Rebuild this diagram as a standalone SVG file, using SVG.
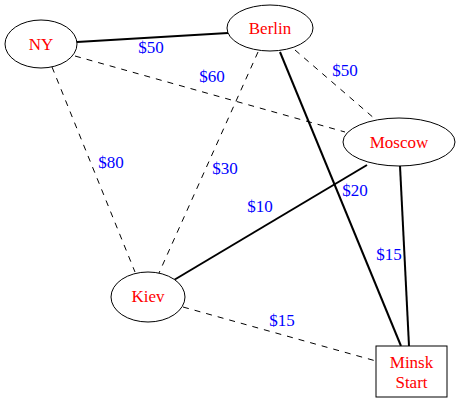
<svg xmlns="http://www.w3.org/2000/svg" width="459" height="402" viewBox="0 0 459 402">
<style>
.node ellipse, .node rect { fill: #fff; stroke: #000; stroke-width: 1; }
.name { font-family: "Liberation Serif", serif; font-size: 17px; fill: #ff0000; text-anchor: middle; }
.lbl { font-family: "Liberation Serif", serif; font-size: 17px; fill: #0000ff; text-anchor: middle; }
.solid { stroke: #000; stroke-width: 2; fill: none; }
.dash { stroke: #000; stroke-width: 1; stroke-dasharray: 6,6; fill: none; }
</style>
<rect width="459" height="402" fill="#fff"/>
<g id="connectors">
<line class="solid" x1="77" y1="42" x2="228" y2="33"/>
<line class="dash" x1="75" y1="56" x2="345" y2="132"/>
<line class="dash" x1="52" y1="67" x2="135" y2="272"/>
<line class="dash" x1="258" y1="52" x2="159" y2="273"/>
<line class="dash" x1="295" y1="50" x2="375" y2="119"/>
<line class="solid" x1="280" y1="52" x2="401" y2="346"/>
<line class="solid" x1="367" y1="165" x2="174" y2="280"/>
<line class="solid" x1="400" y1="166" x2="409" y2="346"/>
<line class="dash" x1="183" y1="307" x2="376" y2="361"/>
<text class="lbl" x="151" y="53">$50</text>
<text class="lbl" x="212" y="82">$60</text>
<text class="lbl" x="345" y="76">$50</text>
<text class="lbl" x="111" y="168">$80</text>
<text class="lbl" x="225" y="174">$30</text>
<text class="lbl" x="260" y="212">$10</text>
<text class="lbl" x="355" y="196">$20</text>
<text class="lbl" x="389" y="260">$15</text>
<text class="lbl" x="282" y="326">$15</text>
</g>
<g id="ny" class="node"><ellipse cx="41" cy="44" rx="36" ry="24"/><text class="name" x="41" y="50">NY</text></g>
<g id="berlin" class="node"><ellipse cx="270" cy="28" rx="43" ry="23"/><text class="name" x="270" y="34">Berlin</text></g>
<g id="moscow" class="node"><ellipse cx="399" cy="142" rx="56" ry="24"/><text class="name" x="399" y="148">Moscow</text></g>
<g id="kiev" class="node"><ellipse cx="148" cy="297" rx="37" ry="25"/><text class="name" x="148" y="302">Kiev</text></g>
<g id="minsk" class="node"><rect x="376" y="346" width="71" height="51"/><text class="name" x="411.5" y="368">Minsk</text><text class="name" x="411.5" y="388">Start</text></g>
</svg>
